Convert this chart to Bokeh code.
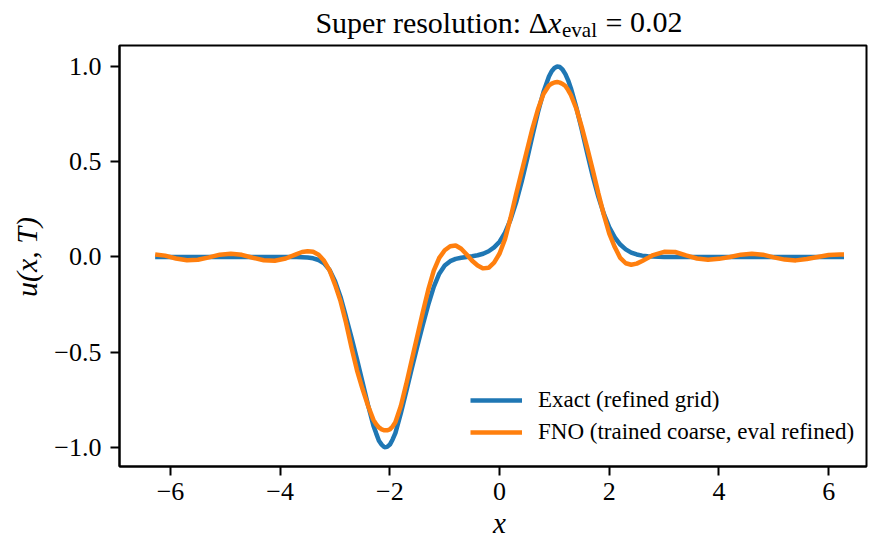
import math
from bokeh.plotting import figure
from bokeh.models import (Range1d, FixedTicker, CustomJSTickFormatter, Legend,
                          LegendItem, ColumnDataSource)
from bokeh.core.properties import value
from bokeh.embed import file_html
from bokeh.resources import INLINE

# ---------------- data ----------------
x_vals = [-6.28, -6.1, -5.9, -5.7, -5.5, -5.3, -5.1, -4.9, -4.7, -4.5, -4.3, -4.1, -3.9, -3.7,
          -3.6, -3.5, -3.4, -3.3, -3.2, -3.1, -3.0, -2.9, -2.8, -2.7,
          -2.6, -2.5, -2.4, -2.3, -2.25, -2.2, -2.15, -2.1, -2.05, -2.0,
          -1.95, -1.9, -1.8, -1.7, -1.6, -1.5, -1.4, -1.3, -1.2, -1.1,
          -1.0, -0.9, -0.8, -0.7, -0.6, -0.5, -0.4, -0.3, -0.2, -0.1,
          0.0, 0.1, 0.2, 0.3, 0.4, 0.5, 0.6, 0.7, 0.8, 0.9,
          0.95, 1.0, 1.05, 1.1, 1.15, 1.2, 1.25, 1.3, 1.4, 1.5,
          1.6, 1.7, 1.8, 1.9, 2.0, 2.1, 2.2, 2.3, 2.4, 2.5,
          2.6, 2.7, 2.8,
          3.0, 3.2, 3.4, 3.6, 3.8, 4.0, 4.2, 4.4, 4.6, 4.8, 5.0, 5.2, 5.4, 5.6, 5.8, 6.0, 6.2, 6.28]

u_exact = [0.0, 0.0, 0.0, 0.0, 0.0, 0.0, 0.0, 0.0, 0.0, 0.0, 0.0, 0.0, 0.0, 0.0,
           -0.001, -0.003, -0.007, -0.016, -0.033, -0.068, -0.128, -0.210, -0.315, -0.423,
           -0.537, -0.656, -0.776, -0.886, -0.926, -0.965, -0.985, -0.999, -0.997, -0.985,
           -0.958, -0.925, -0.820, -0.704, -0.584, -0.468, -0.357, -0.250, -0.157, -0.088,
           -0.045, -0.022, -0.010, -0.004, 0.000, 0.004, 0.009, 0.017, 0.030, 0.050,
           0.080, 0.128, 0.196, 0.285, 0.392, 0.512, 0.638, 0.760, 0.866, 0.947,
           0.975, 0.992, 1.000, 0.997, 0.983, 0.960, 0.927, 0.886, 0.784, 0.666,
           0.542, 0.423, 0.317, 0.227, 0.156, 0.103, 0.065, 0.040, 0.023, 0.013,
           0.007, 0.004, 0.002,
           0.0, 0.0, 0.0, 0.0, 0.0, 0.0, 0.0, 0.0, 0.0, 0.0, 0.0, 0.0, 0.0, 0.0, 0.0, 0.0, 0.0, 0.0]

u_fno = [0.013, 0.007, -0.008, -0.017, -0.015, -0.002, 0.012, 0.017, 0.011, -0.004, -0.017, -0.020, -0.008, 0.015,
         0.026, 0.030, 0.027, 0.012, -0.020, -0.070, -0.145, -0.232, -0.345, -0.475,
         -0.595, -0.692, -0.780, -0.855, -0.878, -0.895, -0.905, -0.910, -0.910, -0.905,
         -0.890, -0.868, -0.782, -0.665, -0.540, -0.415, -0.290, -0.172, -0.072, -0.005,
         0.035, 0.056, 0.060, 0.043, 0.013, -0.020, -0.045, -0.060, -0.057, -0.030,
         0.018, 0.095, 0.205, 0.328, 0.445, 0.560, 0.675, 0.775, 0.855, 0.900,
         0.910, 0.916, 0.918, 0.915, 0.908, 0.897, 0.876, 0.850, 0.778, 0.680,
         0.570, 0.455, 0.335, 0.222, 0.122, 0.052, -0.005, -0.033, -0.041, -0.035,
         -0.021, -0.006, 0.010,
         0.027, 0.026, 0.008, -0.008, -0.015, -0.010, 0.000, 0.012, 0.017, 0.012, -0.002, -0.014, -0.018, -0.011, 0.000, 0.010, 0.013, 0.013]

x_ticks = [-6, -4, -2, 0, 2, 4, 6]
y_ticks = [-1.0, -0.5, 0.0, 0.5, 1.0]
series_names = ["Exact (refined grid)", "FNO (trained coarse, eval refined)"]
series_colors = ["#1f77b4", "#ff7f0e"]
title_pieces = ["Super resolution: \u0394", "x", "eval", "=", "0.02"]
x_label = "x"
y_label = "u(x, T)"

FONT = "Liberation Serif"
X_RANGE = (-6.93, 6.69)
Y_RANGE = (-1.10, 1.11)

# ---------------- figure ----------------
p = figure(width=876, height=540, output_backend="svg", toolbar_location=None,
           x_range=Range1d(*X_RANGE), y_range=Range1d(*Y_RANGE),
           min_border_left=119, min_border_right=10, min_border_top=45, min_border_bottom=74)
p.title.visible = False
p.xgrid.visible = False
p.ygrid.visible = False
p.outline_line_color = "black"
p.outline_line_width = 2
p.outline_line_alpha = 1.0
p.background_fill_color = "white"
p.border_fill_color = "white"

src = ColumnDataSource(dict(x=x_vals, exact=u_exact, fno=u_fno))
r_exact = p.line("x", "exact", source=src, line_color=series_colors[0], line_width=4.5)
r_fno = p.line("x", "fno", source=src, line_color=series_colors[1], line_width=4.5)

for ax in (p.xaxis[0], p.yaxis[0]):
    ax.axis_line_width = 2
    ax.axis_line_color = "black"
    ax.major_tick_line_width = 2
    ax.major_tick_line_color = "black"
    ax.major_tick_out = 9
    ax.major_tick_in = 0
    ax.minor_tick_out = 0
    ax.minor_tick_in = 0
    ax.major_label_text_font = FONT
    ax.major_label_text_font_size = "26px"
    ax.major_label_text_color = "black"

p.xaxis.ticker = FixedTicker(ticks=x_ticks)
p.yaxis.ticker = FixedTicker(ticks=y_ticks)
p.xaxis.formatter = CustomJSTickFormatter(
    code="return (tick < 0 ? '\u2212' : '') + Math.abs(tick).toFixed(0);")
p.yaxis.formatter = CustomJSTickFormatter(
    code="return (tick < -1e-9 ? '\u2212' : '') + Math.abs(tick).toFixed(1);")
p.xaxis.major_label_standoff = 7
p.yaxis.major_label_standoff = 9

# ---------------- legend ----------------
legend = Legend(items=[LegendItem(label=series_names[0], renderers=[r_exact]),
                       LegendItem(label=series_names[1], renderers=[r_fno])],
                location=(351, 21))
legend.label_text_font = FONT
legend.label_text_font_size = "23px"
legend.label_text_color = "black"
legend.glyph_width = 52
legend.glyph_height = 26
legend.label_height = 26
legend.label_standoff = 16
legend.spacing = 6
legend.padding = 0
legend.margin = 0
legend.border_line_alpha = 0
legend.background_fill_alpha = 0
p.add_layout(legend)

# ---------------- title and axis labels: text drawn on the overlay level ----------------
FRAME = dict(left=119, right=866, top=45, bottom=466)
def to_x(px):
    return X_RANGE[0] + (px - FRAME["left"]) * (X_RANGE[1] - X_RANGE[0]) / (FRAME["right"] - FRAME["left"])
def to_y(py):
    return Y_RANGE[1] - (py - FRAME["top"]) * (Y_RANGE[1] - Y_RANGE[0]) / (FRAME["bottom"] - FRAME["top"])

def put_text(txt, px, py, size, align="left", baseline="alphabetic", style="normal", angle=0.0):
    p.text(x=[to_x(px)], y=[to_y(py)], text=[txt], text_font=value(FONT),
           text_font_size=value(size), text_align=value(align),
           text_baseline=value(baseline), text_font_style=value(style),
           angle=angle, text_color="black", level="overlay")

title_layout = [  # (px, py, size, align, style)
    (547.5, 22, "30px", "right", "normal"),
    (547.5, 22, "30px", "left", "italic"),
    (561.5, 29, "21px", "left", "normal"),
    (605.0, 22, "30px", "left", "normal"),
    (682.0, 22, "30px", "right", "normal"),
]
for piece, (px, py, size, align, style) in zip(title_pieces, title_layout):
    put_text(piece, px, py, size, align=align, style=style)

put_text(x_label, 499, 522, "29px", align="center", style="italic")
put_text(y_label, 26, 256.5, "30px", align="center", baseline="middle", style="italic",
         angle=math.pi / 2)

open("out.html", "w").write(file_html(p, INLINE))
